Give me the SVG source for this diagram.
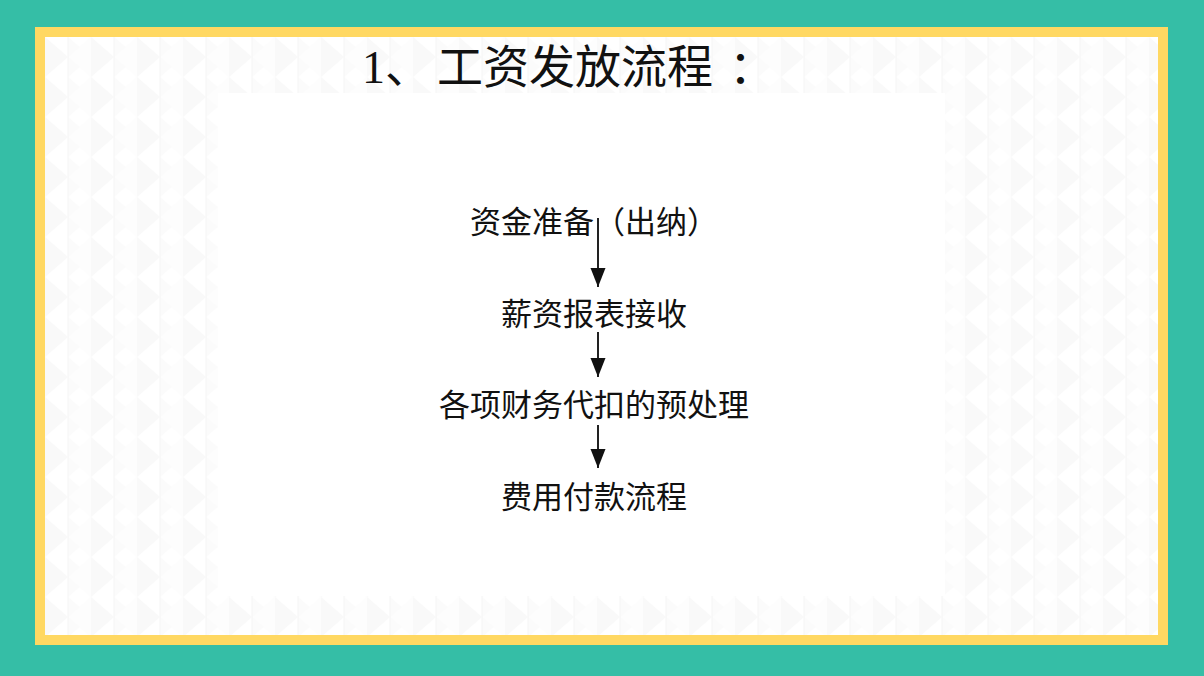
<svg xmlns="http://www.w3.org/2000/svg" width="1204" height="676" viewBox="0 0 1204 676">
<style>
.t{font-family:"Liberation Serif","Noto Sans CJK SC",serif;fill:#111;}
.title{font-size:46px;}
.lbl{font-size:31px;text-anchor:middle;}
.conn line{stroke:#222;stroke-width:2;}
</style>
<defs>
<pattern id="tri" width="46" height="40" patternUnits="userSpaceOnUse" x="45" y="37">
<rect width="46" height="40" fill="#ffffff"/>
<polygon points="0,0 23,20 0,40" fill="#f9f9f9"/>
<polygon points="23,0 46,20 23,40" fill="#fbfbfb"/>
<polygon points="23,20 46,0 46,40" fill="#fdfdfd"/>
<line x1="23" y1="0" x2="23" y2="40" stroke="#f6f6f6" stroke-width="1"/>
</pattern>
<marker id="ah" markerUnits="userSpaceOnUse" markerWidth="20" markerHeight="16" refX="19" refY="7.5" orient="auto">
<path d="M0,0 L19,7.5 L0,15 z" fill="#111"/>
</marker>
</defs>
<g id="frame">
<rect x="0" y="0" width="1204" height="676" fill="#35BEA6"/>
<rect x="35" y="27" width="1133" height="618" fill="#FFD862"/>
<rect x="45" y="37" width="1113" height="598" fill="url(#tri)"/>
<rect x="218" y="93" width="727" height="503" fill="#ffffff"/>
</g>
<g id="title">
<text class="t title" y="83"><tspan x="362">1、</tspan><tspan x="437">工资发放流程</tspan><tspan x="729">：</tspan></text>
</g>
<g id="n1"><text class="t lbl" x="594" y="233">资金准备（出纳）</text></g>
<g id="n2"><text class="t lbl" x="594" y="325">薪资报表接收</text></g>
<g id="n3"><text class="t lbl" x="594" y="416">各项财务代扣的预处理</text></g>
<g id="n4"><text class="t lbl" x="594" y="508">费用付款流程</text></g>
<g id="connectors" class="conn">
<line x1="598" y1="218" x2="598" y2="287" marker-end="url(#ah)"/>
<line x1="598" y1="332" x2="598" y2="377" marker-end="url(#ah)"/>
<line x1="598" y1="425" x2="598" y2="468" marker-end="url(#ah)"/>
</g>
</svg>
